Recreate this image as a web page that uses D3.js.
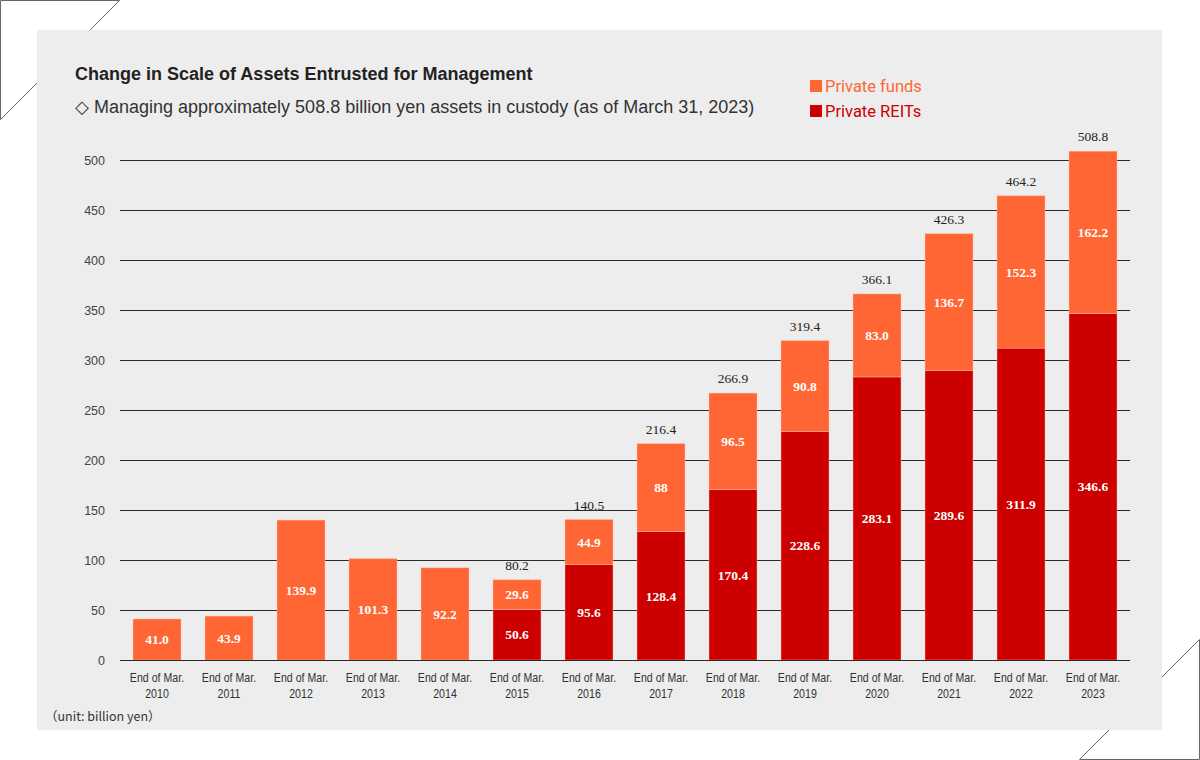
<!DOCTYPE html>
<html>
<head>
<meta charset="utf-8">
<script src="https://cdn.jsdelivr.net/npm/d3@7/dist/d3.min.js"></script>
<style>
  html, body { margin: 0; padding: 0; background: #ffffff; }
  svg { display: block; }
</style>
</head>
<body>
<svg id="chart" width="1200" height="760"></svg>
<script>
const categories = ["2010","2011","2012","2013","2014","2015","2016","2017","2018","2019","2020","2021","2022","2023"];
const privateREITs = [0, 0, 0, 0, 0, 50.6, 95.6, 128.4, 170.4, 228.6, 283.1, 289.6, 311.9, 346.6];
const privateFunds = [41.0, 43.9, 139.9, 101.3, 92.2, 29.6, 44.9, 88, 96.5, 90.8, 83.0, 136.7, 152.3, 162.2];
const reitLabels = ["", "", "", "", "", "50.6", "95.6", "128.4", "170.4", "228.6", "283.1", "289.6", "311.9", "346.6"];
const fundLabels = ["41.0", "43.9", "139.9", "101.3", "92.2", "29.6", "44.9", "88", "96.5", "90.8", "83.0", "136.7", "152.3", "162.2"];
const totalLabels = ["", "", "", "", "", "80.2", "140.5", "216.4", "266.9", "319.4", "366.1", "426.3", "464.2", "508.8"];
const yTicks = [0, 50, 100, 150, 200, 250, 300, 350, 400, 450, 500];
const seriesNames = ["Private funds", "Private REITs"];

const COLORS = { funds: "#ff6633", reits: "#cc0000" };

const svg = d3.select("#chart");

// corner decorations
const deco = svg.append("g").attr("fill", "none").attr("stroke", "#666").attr("stroke-width", 1);
deco.append("path").attr("d", "M0.5,119.5 L0.5,0.5 L119.5,0.5 Z");
deco.append("path").attr("d", "M1199.5,639.5 L1199.5,759.5 L1079.5,759.5 Z");

// panel
svg.append("rect").attr("x", 37).attr("y", 30).attr("width", 1125).attr("height", 700).attr("fill", "#ededed");

// title
svg.append("text").attr("x", 75).attr("y", 80)
  .attr("font-family", "Liberation Sans, Arial, sans-serif").attr("font-size", 18).attr("font-weight", "bold")
  .attr("fill", "#222").text("Change in Scale of Assets Entrusted for Management");
svg.append("text").attr("x", 75).attr("y", 113)
  .attr("font-family", "Liberation Sans, Arial, sans-serif").attr("font-size", 18)
  .attr("fill", "#333").text("◇ Managing approximately 508.8 billion yen assets in custody (as of March 31, 2023)");

// legend
const legend = svg.append("g");
[[seriesNames[0], COLORS.funds, 86], [seriesNames[1], COLORS.reits, 111]].forEach(([name, c, y]) => {
  legend.append("rect").attr("x", 810).attr("y", y - 6).attr("width", 12).attr("height", 12).attr("fill", c);
  legend.append("text").attr("x", 825).attr("y", y + 6)
    .attr("font-family", "Roboto, Liberation Sans, sans-serif").attr("font-size", 16.5)
    .attr("fill", c).text(name);
});

// scales
const x = d3.scaleBand().domain(categories).range([121, 1129]).paddingInner(1/3).paddingOuter(1/6);
const y = d3.scaleLinear().domain([0, 500]).range([660, 160]);

// gridlines + y labels
const yAxis = d3.axisLeft(y).tickValues(yTicks).tickSize(-1010).tickPadding(15).tickFormat(d3.format("d"));
const yg = svg.append("g").attr("transform", "translate(120,0)").call(yAxis);
yg.select(".domain").remove();
yg.selectAll(".tick line").attr("stroke", "#2a2a2a").attr("stroke-width", 1).attr("shape-rendering", "crispEdges");
yg.selectAll(".tick text").attr("font-family", "Liberation Sans, Arial, sans-serif").attr("font-size", 12.5).attr("fill", "#444").attr("dy", "0.36em");

// stacked bars
const rows = categories.map((c, i) => ({ cat: c, reits: privateREITs[i], funds: privateFunds[i], i }));
const stack = d3.stack().keys(["reits", "funds"])(rows);

const barG = svg.append("g");
stack.forEach(layer => {
  const col = layer.key === "reits" ? COLORS.reits : COLORS.funds;
  barG.selectAll(null).data(layer.filter(d => d[1] - d[0] > 0)).enter().append("rect")
    .attr("x", d => x(d.data.cat))
    .attr("width", x.bandwidth())
    .attr("y", d => y(d[1]))
    .attr("height", d => y(d[0]) - y(d[1]))
    .attr("fill", col)
    .attr("stroke", "rgba(255,190,170,0.55)")
    .attr("stroke-width", 0.8);
});

// baseline redraw on top
svg.append("line").attr("x1", 120).attr("x2", 1130).attr("y1", y(0)).attr("y2", y(0))
  .attr("stroke", "#2a2a2a").attr("shape-rendering", "crispEdges");

// value labels
const labG = svg.append("g").attr("font-family", "Liberation Serif, Times New Roman, serif").attr("font-weight", "bold")
  .attr("font-size", 13.5).attr("fill", "#fff").attr("text-anchor", "middle");
rows.forEach((d, i) => {
  const cx = x(d.cat) + x.bandwidth() / 2;
  if (reitLabels[i]) {
    labG.append("text").attr("x", cx).attr("y", y(d.reits / 2)).attr("dy", "0.35em").text(reitLabels[i]);
  }
  labG.append("text").attr("x", cx).attr("y", y(d.reits + d.funds / 2)).attr("dy", "0.35em").text(fundLabels[i]);
  if (totalLabels[i]) {
    svg.append("text").attr("x", cx).attr("y", y(d.reits + d.funds) - 10)
      .attr("font-family", "Liberation Serif, Times New Roman, serif").attr("font-size", 13.5)
      .attr("fill", "#222").attr("text-anchor", "middle").text(totalLabels[i]);
  }
});

// x labels (condensed)
const xg = svg.append("g").attr("font-family", "Liberation Sans, Arial, sans-serif")
  .attr("font-size", 12.5).attr("fill", "#333").attr("text-anchor", "middle");
categories.forEach(c => {
  const cx = x(c) + x.bandwidth() / 2;
  const g = xg.append("g").attr("transform", `translate(${cx},0) scale(0.85,1)`);
  g.append("text").attr("x", 0).attr("y", 682).text("End of Mar.");
  g.append("text").attr("x", 0).attr("y", 698).text(c);
});

// unit
svg.append("text").attr("x", 45).attr("y", 721)
  .attr("font-family", "Noto Sans CJK JP, Liberation Sans, sans-serif").attr("font-size", 12.5)
  .attr("fill", "#333").text("（unit: billion yen）");
</script>
</body>
</html>
